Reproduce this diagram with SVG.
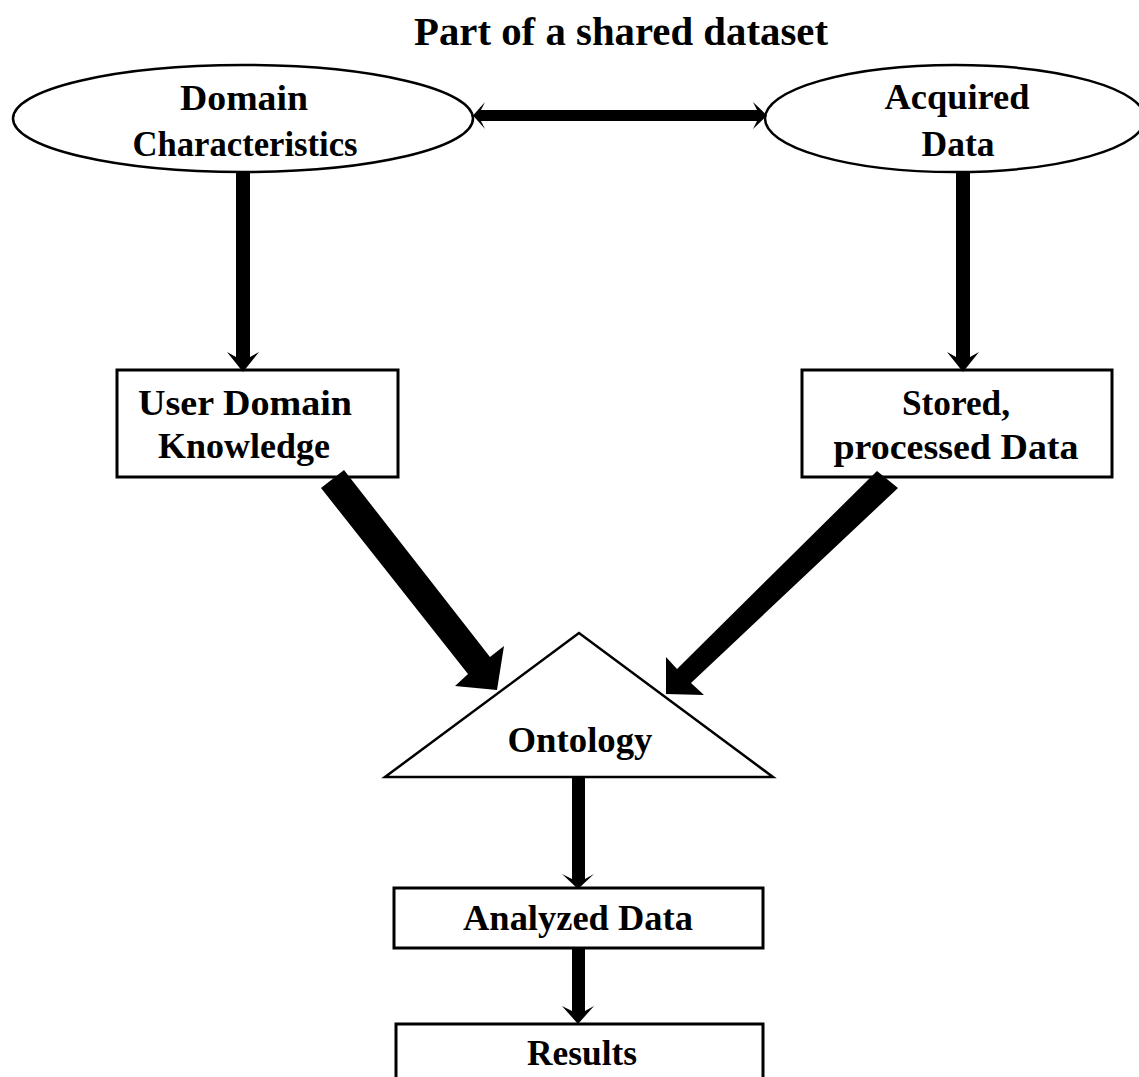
<svg xmlns="http://www.w3.org/2000/svg" width="1139" height="1077" viewBox="0 0 1139 1077">
<style>
.t{font-family:"Liberation Serif","Times New Roman",serif;font-weight:bold;font-size:35px;fill:#000;text-anchor:middle}
.title{font-size:40px}
.shape{fill:#fff;stroke:#000;stroke-width:2.5}
.box{fill:#fff;stroke:#000;stroke-width:3}
.arr{fill:#000;stroke:none}
</style>
<rect width="1139" height="1077" fill="#fff"/>
<text class="t title" x="621" y="45" textLength="414" lengthAdjust="spacingAndGlyphs">Part of a shared dataset</text>
<g id="domain">
<ellipse class="shape" cx="243" cy="118.5" rx="230" ry="53.5"/>
<text class="t" x="244" y="110" textLength="128" lengthAdjust="spacingAndGlyphs">Domain</text>
<text class="t" x="245" y="156" textLength="225" lengthAdjust="spacingAndGlyphs">Characteristics</text>
</g>
<g id="acquired">
<ellipse class="shape" cx="955" cy="118.5" rx="190" ry="53.5"/>
<text class="t" x="957" y="109" textLength="145" lengthAdjust="spacingAndGlyphs">Acquired</text>
<text class="t" x="958" y="156" textLength="73" lengthAdjust="spacingAndGlyphs">Data</text>
</g>
<g id="user">
<rect class="box" x="117" y="370" width="281" height="107"/>
<text class="t" x="245" y="415" textLength="214" lengthAdjust="spacingAndGlyphs">User Domain</text>
<text class="t" x="244" y="458" textLength="172" lengthAdjust="spacingAndGlyphs">Knowledge</text>
</g>
<g id="stored">
<rect class="box" x="802" y="370" width="310" height="107"/>
<text class="t" x="956" y="415" textLength="108" lengthAdjust="spacingAndGlyphs">Stored,</text>
<text class="t" x="956" y="459" textLength="245" lengthAdjust="spacingAndGlyphs">processed Data</text>
</g>
<g id="ontology">
<polygon class="shape" points="579,633 385,777 773,777"/>
<text class="t" x="580" y="752" textLength="145" lengthAdjust="spacingAndGlyphs">Ontology</text>
</g>
<g id="analyzed">
<rect class="box" x="394" y="888" width="369" height="60"/>
<text class="t" x="578" y="930" textLength="230" lengthAdjust="spacingAndGlyphs">Analyzed Data</text>
</g>
<g id="results">
<rect class="box" x="396" y="1024" width="367" height="70"/>
<text class="t" x="582" y="1065" textLength="110" lengthAdjust="spacingAndGlyphs">Results</text>
</g>
<g id="connectors">
<polygon class="arr" points="473,115.5 485,102 481,110 757,110 753,102 767,115.5 753,129 757,121 481,121 485,129"/>
<polygon class="arr" points="236,172 250,172 250,357 259,352 243,372 227,352 236,357"/>
<polygon class="arr" points="956,172 970,172 970,357 979,352 963,372 947,352 956,357"/>
<polygon class="arr" points="572,777 585,777 585,879 594,874 578,889 562,874 572,879"/>
<polygon class="arr" points="572,948 585,948 585,1011 594,1006 578,1024 562,1006 572,1011"/>
<polygon class="arr" points="321,488 344,470 490,657 504,646 497,690 455,686 468,674"/>
<polygon class="arr" points="877,471 898,488 691,683 704,695 666,694 666,657 677,669"/>
</g>
</svg>
